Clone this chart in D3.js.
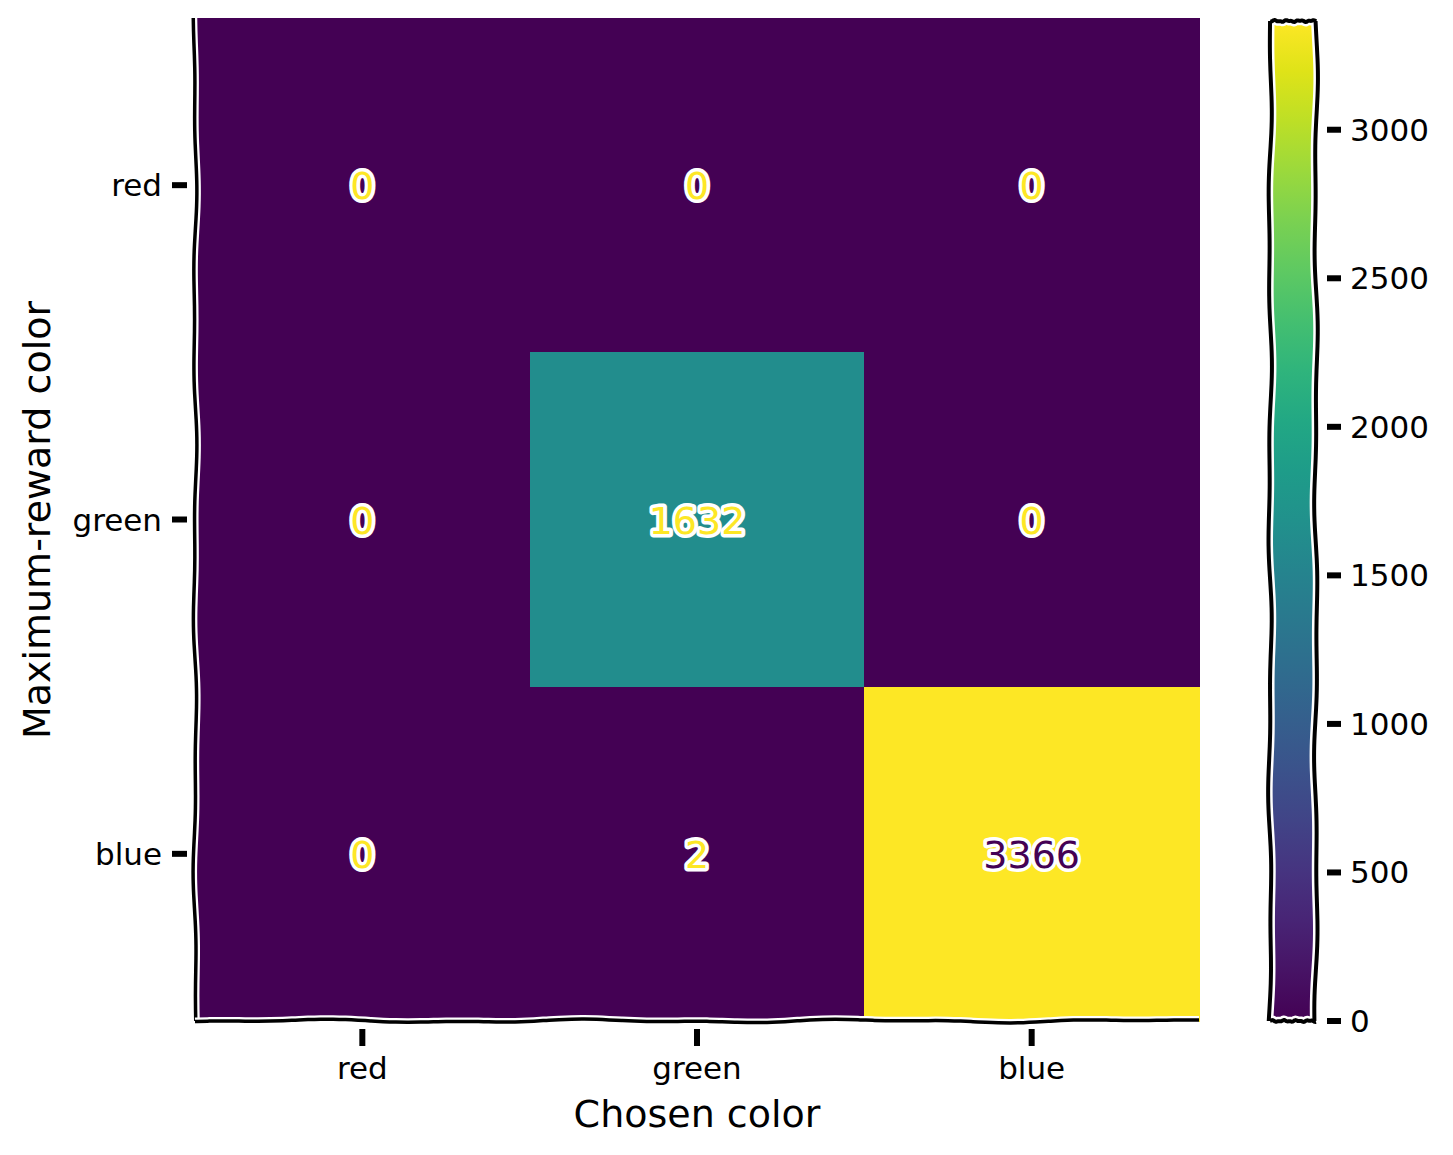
<!DOCTYPE html><html><head><meta charset="utf-8"><script src="https://cdn.jsdelivr.net/npm/d3@7"></script>
<style>body{margin:0;background:#fff}text{font-family:"DejaVu Sans",sans-serif}</style></head><body><svg id="c" width="1453" height="1155"></svg>
<script>
const rows=["red","green","blue"];
const cols=["red","green","blue"];
const values=[[0,0,0],[0,1632,0],[0,2,3366]];
const cbTicks=[0,500,1000,1500,2000,2500,3000];
const svg=d3.select("#c");
const L=195,R=1199,T=18,B=1021;
const x=d3.scaleBand().domain(cols).range([L,R]);
const y=d3.scaleBand().domain(rows).range([T,B]);
const vmax=3366;
const col=v=>d3.interpolateViridis(v/vmax);
rows.forEach((r,i)=>cols.forEach((c,j)=>{
 svg.append("rect").attr("x",x(c)).attr("y",y(r)).attr("width",x.bandwidth()+1).attr("height",y.bandwidth()+1).attr("fill",col(values[i][j])).attr("shape-rendering","crispEdges");
}));
rows.forEach((r,i)=>cols.forEach((c,j)=>{
 const v=values[i][j];
 svg.append("text").attr("x",x(c)+x.bandwidth()/2).attr("y",y(r)+y.bandwidth()/2+14).attr("text-anchor","middle")
 .attr("font-size",38).attr("fill",v>vmax/2?col(0):col(vmax)).attr("stroke","#fff").attr("stroke-width",7).attr("paint-order","stroke").attr("stroke-linejoin","round").text(v);
}));
function wig(x1,y1,x2,y2,amp,ph){const n=80,pts=[];const dx=x2-x1,dy=y2-y1,len=Math.hypot(dx,dy),nx=-dy/len,ny=dx/len;
 for(let k=0;k<=n;k++){const t=k/n;const o=amp*(Math.sin(t*23+ph)*0.6+Math.sin(t*51+ph*2)*0.4);pts.push([x1+dx*t+nx*o,y1+dy*t+ny*o]);}return d3.line().curve(d3.curveBasis)(pts);}
function spine(x1,y1,x2,y2,ph){svg.append("path").attr("d",wig(x1,y1,x2,y2,2,ph)).attr("fill","none").attr("stroke","#fff").attr("stroke-width",8);
 svg.append("path").attr("d",wig(x1,y1,x2,y2,2,ph)).attr("fill","none").attr("stroke","#000").attr("stroke-width",3.5);}
spine(L,T,L,B,1);spine(L,B,R,B,2);
rows.forEach(r=>{const yy=y(r)+y.bandwidth()/2;svg.append("line").attr("x1",172).attr("x2",187).attr("y1",yy).attr("y2",yy).attr("stroke","#000").attr("stroke-width",6);
 svg.append("text").attr("x",162).attr("y",yy+11).attr("text-anchor","end").attr("font-size",31).text(r);});
cols.forEach(c=>{const xx=x(c)+x.bandwidth()/2;svg.append("line").attr("x1",xx).attr("x2",xx).attr("y1",1029).attr("y2",1046).attr("stroke","#000").attr("stroke-width",6);
 svg.append("text").attr("x",xx).attr("y",1079).attr("text-anchor","middle").attr("font-size",31).text(c);});
svg.append("text").attr("x",697).attr("y",1127).attr("text-anchor","middle").attr("font-size",38).text("Chosen color");
svg.append("text").attr("transform","translate(50,520) rotate(-90)").attr("text-anchor","middle").attr("font-size",38).text("Maximum-reward color");
const cy=d3.scaleLinear().domain([0,vmax]).range([1021,21]);
const g=svg.append("defs").append("linearGradient").attr("id","vg").attr("x1",0).attr("y1",1).attr("x2",0).attr("y2",0);
d3.range(0,1.0001,0.05).forEach(t=>g.append("stop").attr("offset",t).attr("stop-color",d3.interpolateViridis(t)));
svg.append("rect").attr("x",1270).attr("y",21).attr("width",46).attr("height",1000).attr("fill","url(#vg)");
const bp=[wig(1270,21,1270,1021,2,3),wig(1270,1021,1316,1021,1,4),wig(1316,1021,1316,21,2,5),wig(1316,21,1270,21,1,6)];
bp.forEach(d=>{svg.append("path").attr("d",d).attr("fill","none").attr("stroke","#fff").attr("stroke-width",9);});
bp.forEach(d=>{svg.append("path").attr("d",d).attr("fill","none").attr("stroke","#000").attr("stroke-width",4);});
cbTicks.forEach(v=>{const yy=cy(v);svg.append("line").attr("x1",1327).attr("x2",1341).attr("y1",yy).attr("y2",yy).attr("stroke","#000").attr("stroke-width",6);
 svg.append("text").attr("x",1350).attr("y",yy+11).attr("font-size",31).text(v);});
</script></body></html>
